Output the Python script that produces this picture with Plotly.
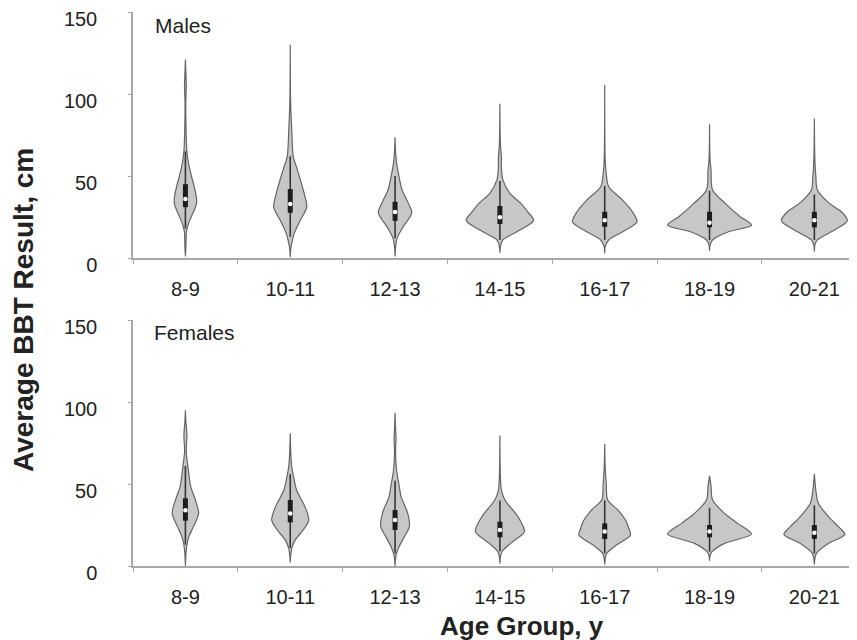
import plotly.graph_objects as go

categories = ["8-9", "10-11", "12-13", "14-15", "16-17", "18-19", "20-21"]
y_ticks = [0, 50, 100, 150]

# Violin outlines: levels (cm) and half-width (relative density)
male_levels = [
    [1, 5, 16, 20, 24, 28, 33, 37, 43, 50, 58, 65, 75, 95, 105, 114, 121],
    [0.5, 5, 9, 15, 23, 31, 41.5, 54, 62, 78, 95, 130],
    [1, 6, 12, 19, 27.4, 35, 41.5, 49.6, 58, 65, 73.6],
    [3.2, 7, 11, 17, 23, 28, 33.3, 39.4, 47.6, 55, 60.8, 70, 94],
    [3, 7, 11, 17, 22, 28.2, 35.4, 43.5, 51.6, 60, 105.5],
    [4.5, 8, 11, 16, 20, 25.2, 33.3, 41.5, 53.7, 60, 81.5],
    [4, 8, 11, 17, 22.8, 28.2, 33.3, 41.5, 49.6, 60, 85],
]
male_widths = [
    [0, 0.4, 1, 2.5, 5, 8, 11, 11, 9, 6, 3, 1.5, 0.8, 0.4, 0.9, 0.4, 0],
    [0, 0.4, 1.5, 4, 10, 16.5, 13, 7, 3, 1.5, 0.4, 0],
    [0, 0.4, 2, 8, 16.7, 12, 7, 4, 1.5, 0.5, 0],
    [0, 0.5, 3, 20, 33.7, 28, 21, 10, 3, 1.5, 1.5, 0.5, 0],
    [0, 0.5, 4, 21, 32.3, 27.7, 17.7, 4, 1.5, 0.5, 0],
    [0, 0.5, 3, 19, 42, 30.7, 15.7, 3, 1.5, 0.5, 0],
    [0, 0.5, 3, 20, 33, 27, 15, 3, 1.5, 0.5, 0],
]
male_q1 = [31, 27.6, 22.7, 20.7, 19, 18.7, 18.7]
male_median = [36, 33, 28, 24.8, 23, 21.5, 23]
male_q3 = [45, 42, 34.3, 31.7, 28.2, 28.2, 28.2]
male_whisker_lo = [18, 13, 12, 11, 11, 11, 11]
male_whisker_hi = [65, 62, 50, 47, 44, 41, 38.7]

female_levels = [
    [0, 6, 12.8, 17.9, 24, 32, 40.2, 48.4, 60.6, 70, 80, 88, 95],
    [2, 6, 10.8, 15.9, 22, 28, 36.2, 46.3, 52.4, 60.6, 70, 81],
    [0, 4, 7.7, 11.8, 17.9, 24, 32.1, 42.3, 49.4, 58.5, 70, 78, 85, 93.5],
    [1.6, 5, 8.7, 13.8, 21, 27, 32.1, 40.2, 46.3, 55, 79.5],
    [1, 4, 7.7, 12.8, 18.9, 23, 27, 34.1, 40.2, 50.6, 60, 74.4],
    [3.2, 6, 8.7, 13.8, 19.5, 26, 32.1, 40.2, 48.6, 55],
    [1, 4, 7.7, 13.8, 19.3, 24, 30, 38.2, 46, 56],
]
female_widths = [
    [0, 0.4, 1.5, 3.5, 8, 13.2, 10, 5.3, 2.5, 0.8, 1.5, 0.5, 0],
    [0, 0.4, 1.5, 5, 13, 18.5, 14.7, 6.3, 4, 1.5, 0.5, 0],
    [0, 0.4, 1.5, 4, 9.3, 14.3, 12.7, 6, 4, 1.5, 0.5, 1, 0.4, 0],
    [0, 0.4, 2, 10.7, 24.5, 21, 15.7, 5, 1.5, 0.5, 0],
    [0, 0.4, 2, 11.7, 25.8, 24, 21.7, 13.3, 3, 1.5, 0.5, 0],
    [0, 0.4, 2.5, 15, 42, 28, 15, 3, 1.5, 0],
    [0, 0.4, 2, 14.3, 30.5, 24, 14.3, 4, 1.5, 0],
]
female_q1 = [27.6, 26.6, 22, 17.5, 16.5, 17.5, 16.5]
female_median = [34, 32, 28, 22, 21, 21, 20.3]
female_q3 = [41.3, 40.2, 34.1, 27, 26, 25, 25]
female_whisker_lo = [13, 11, 7.7, 9, 7.7, 8.7, 7.7]
female_whisker_hi = [61, 56, 52, 40, 40, 35.5, 37]

WIDTH_SCALE = 1 / 104.8  # density units -> category units
FILL = "#c7c7c7"
EDGE = "#656565"
AX = "#a8a8a8"
TXT = "#222222"
FONT = "Liberation Sans, Arial, sans-serif"

# page has an 8px body margin; figure is sized/placed to compensate
OFF = 8
W = 857 - OFF
H = 640 - OFF
PL = 133 - OFF      # plot left edge (figure px)
PR = 850 - OFF      # plot right edge (figure px)
PW = PR - PL


def fy(page_y):
    return 1 - (page_y - OFF) / H


def fx(page_x):
    return (page_x - OFF - PL) / PW


fig = go.Figure()


def add_panel(levels, widths, q1, med, q3, wlo, whi, xa, ya):
    for i in range(len(categories)):
        ys = levels[i]
        ws = [w * WIDTH_SCALE for w in widths[i]]
        px = [i + w for w in ws] + [i - w for w in reversed(ws)]
        py = list(ys) + list(reversed(ys))
        fig.add_trace(go.Scatter(
            x=px, y=py, mode="lines", fill="toself", fillcolor=FILL,
            line=dict(color=EDGE, width=1.2, shape="spline", smoothing=0.8),
            xaxis=xa, yaxis=ya, hoverinfo="skip", showlegend=False))
        fig.add_trace(go.Scatter(
            x=[i, i], y=[wlo[i], whi[i]], mode="lines",
            line=dict(color="#353535", width=1.6),
            xaxis=xa, yaxis=ya, hoverinfo="skip", showlegend=False))
        fig.add_trace(go.Scatter(
            x=[i, i], y=[q1[i], q3[i]], mode="lines",
            line=dict(color="#1c1c1c", width=5),
            xaxis=xa, yaxis=ya, hoverinfo="skip", showlegend=False))
        fig.add_trace(go.Scatter(
            x=[i], y=[med[i]], mode="markers",
            marker=dict(color="white", size=4.5, line=dict(width=0)),
            xaxis=xa, yaxis=ya, hoverinfo="skip", showlegend=False))


add_panel(male_levels, male_widths, male_q1, male_median, male_q3,
          male_whisker_lo, male_whisker_hi, "x", "y")
add_panel(female_levels, female_widths, female_q1, female_median, female_q3,
          female_whisker_lo, female_whisker_hi, "x2", "y2")

xcommon = dict(
    range=[-0.5, 6.34], domain=[0, 1], tickmode="array",
    tickvals=list(range(len(categories))), ticktext=categories,
    ticks="", showline=True, linecolor=AX, linewidth=1.5,
    showgrid=False, zeroline=False, automargin=False,
    ticklabelstandoff=12,
    tickfont=dict(family=FONT, size=20, color=TXT),
    minor=dict(tickmode="linear", tick0=0.5, dtick=1, ticks="outside",
               ticklen=4, tickcolor=AX, tickwidth=1, showgrid=False),
)
ycommon = dict(
    range=[0, 150], tickmode="array", tickvals=y_ticks,
    ticks="outside", ticklen=3, tickcolor=AX, showline=True,
    linecolor=AX, linewidth=1.5, showgrid=False, zeroline=False,
    automargin=False, ticklabelstandoff=27, ticklabelshift=7,
    tickfont=dict(family=FONT, size=20, color=TXT),
)

fig.update_layout(
    width=W, height=H,
    margin=dict(l=PL, r=W - PR, t=0, b=0),
    paper_bgcolor="white", plot_bgcolor="white",
    xaxis=dict(**xcommon, anchor="y"),
    yaxis=dict(**ycommon, domain=[fy(258), fy(12)], anchor="x"),
    xaxis2=dict(**xcommon, anchor="y2"),
    yaxis2=dict(**ycommon, domain=[fy(566), fy(320)], anchor="x2"),
    annotations=[
        dict(text="Males", xref="paper", yref="paper",
             x=fx(153), y=fy(25), xanchor="left", yanchor="middle",
             showarrow=False, font=dict(family=FONT, size=21, color=TXT)),
        dict(text="Females", xref="paper", yref="paper",
             x=fx(152), y=fy(332), xanchor="left", yanchor="middle",
             showarrow=False, font=dict(family=FONT, size=21, color=TXT)),
        dict(text="<b>Age Group, y</b>", xref="paper", yref="paper",
             x=fx(522), y=fy(626), xanchor="center", yanchor="middle",
             showarrow=False, font=dict(family=FONT, size=26, color=TXT)),
        dict(text="<b>Average BBT Result, cm</b>", xref="paper", yref="paper",
             x=fx(23), y=fy(310), xanchor="center", yanchor="middle",
             textangle=-90, showarrow=False,
             font=dict(family=FONT, size=28, color=TXT)),
    ],
)

fig.write_html("out.html")
